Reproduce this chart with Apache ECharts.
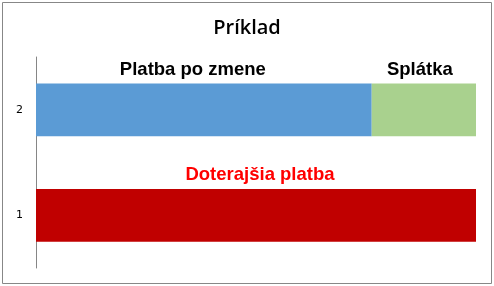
<!DOCTYPE html>
<html>
<head>
<meta charset="utf-8">
<script src="https://cdn.jsdelivr.net/npm/echarts@6/dist/echarts.min.js"></script>
<style>
html,body{margin:0;padding:0;background:#fff;}
#chart{width:494px;height:286px;}
</style>
</head>
<body>
<div id="chart"></div>
<script>
const categories = ['1', '2'];
const seriesNames = ['Doterajšia platba', 'Platba po zmene', 'Splátka'];
const doterajsiaPlatba = [100, null];
const platbaPoZmene = [null, 76.3];
const splatka = [null, 23.7];

const chart = echarts.init(document.getElementById('chart'));
const boldLabel = {fontFamily: 'Liberation Sans, Arial, sans-serif', fontWeight: 'bold', fontSize: 18.5};
chart.setOption({
  animation: false,
  title: {
    text: 'Príklad', left: 'center', top: 13,
    textStyle: {fontFamily: 'Open Sans', fontWeight: 600, fontSize: 20, color: '#000'}
  },
  graphic: [{
    type: 'rect', shape: {x: 2.5, y: 2.5, width: 489, height: 281},
    style: {fill: 'none', stroke: '#878787', lineWidth: 1}, silent: true
  }],
  grid: {left: 36, right: 18, top: 57, bottom: 18},
  xAxis: {type: 'value', min: 0, max: 100, show: false},
  yAxis: {
    type: 'category', data: categories,
    axisLine: {lineStyle: {color: '#868686'}},
    axisTick: {show: false},
    axisLabel: {color: '#000', fontSize: 11, fontFamily: 'DejaVu Sans', margin: 13}
  },
  series: [
    {
      name: seriesNames[0], type: 'bar', stack: 's', data: doterajsiaPlatba, barWidth: '50%',
      itemStyle: {color: '#c00000'},
      label: Object.assign({show: true, position: 'top', distance: 4, color: '#ff0000', offset: [4, 0],
        formatter: () => seriesNames[0]}, boldLabel)
    },
    {
      name: seriesNames[1], type: 'bar', stack: 's', data: platbaPoZmene, barWidth: '50%',
      itemStyle: {color: '#5b9bd5'},
      label: Object.assign({show: true, position: 'top', distance: 4, color: '#000', offset: [-11, 0],
        formatter: () => seriesNames[1]}, boldLabel)
    },
    {
      name: seriesNames[2], type: 'bar', stack: 's', data: splatka, barWidth: '50%',
      itemStyle: {color: '#a9d18e'},
      label: Object.assign({show: true, position: 'top', distance: 4, color: '#000', offset: [-4, 0],
        formatter: () => seriesNames[2]}, boldLabel)
    }
  ]
});
</script>
</body>
</html>
